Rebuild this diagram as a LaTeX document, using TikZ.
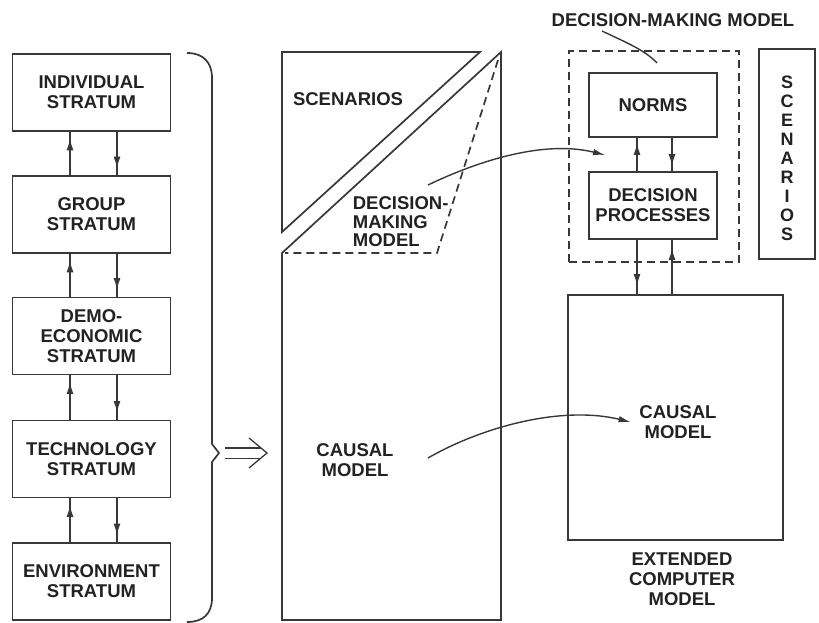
\documentclass[tikz,border=0pt]{standalone}
\usepackage{fontspec}
\setmainfont{Liberation Sans}
\usetikzlibrary{arrows.meta,calc}
\definecolor{linec}{HTML}{383838}
\definecolor{txtc}{HTML}{222222}
\newcommand\diaglabel{\fontsize{18.5}{20}\bfseries\selectfont}

\begin{document}
\begin{tikzpicture}[x=1pt,y=-1pt,line width=1.7pt,color=linec,
  txt/.style={text=txtc,font=\diaglabel,align=center,inner sep=0pt},
  box/.style={txt,draw=linec,line width=1.7pt},
  stratum/.style={box,minimum width=158pt,minimum height=77pt},
  dashbox/.style={draw=linec,line width=1.7pt,dash pattern=on 8pt off 5pt,inner sep=0pt},
  dashline/.style={dash pattern=on 8pt off 5pt},
  flowhead/.style={-{Latex[length=12pt,width=7pt]}},
  curvehead/.style={-{Latex[length=12pt,width=6.5pt]},line width=1.4pt}]

\useasboundingbox (0,0) rectangle (819,623);

% ---- strata column
\node[stratum] (ind) at (91.5,92.5) {INDIVIDUAL\\STRATUM};
\node[stratum] (grp) at (91.5,214.5) {GROUP\\STRATUM};
\node[stratum] (eco) at (91.5,336) {DEMO-\\ECONOMIC\\STRATUM};
\node[stratum] (tec) at (91.5,459) {TECHNOLOGY\\STRATUM};
\node[stratum] (env) at (91.5,581.5) {ENVIRONMENT\\STRATUM};

% a flow line with its arrowhead placed close to the receiving box
\newcommand\flowline[2]{%
  \draw #1 -- #2;
  \draw[flowhead] #1 -- ($#1!0.85!#2$);}

\coordinate (upx) at (70,0);
\coordinate (dnx) at (117,0);
\foreach \lo/\hi in {grp/ind,eco/grp,tec/eco,env/tec}{
  \flowline{(\lo.north -| upx)}{(\hi.south -| upx)}
  \flowline{(\hi.south -| dnx)}{(\lo.north -| dnx)}
}

% ---- brace and implication sign
\draw (187,53) .. controls (203,53) and (212,62) .. (212,78) -- (212,444)
  -- (219,453) -- (212,462) -- (212,598)
  .. controls (212,614) and (203,622) .. (187,622);
\draw[line width=1.2pt,double=white,double distance=9pt] (225,453) -- (261,453);
\draw[line width=1.3pt] (249,438) -- (267,453) -- (249,468);

% ---- split model column
\draw (282,232) -- (282,52) -- (480,52) -- cycle;
\draw (282,253) -- (501,52) -- (501,620) -- (282,620) -- cycle;
\draw[dashline] (498,60) -- (437,253) -- (285,253);

\node[txt] (scen) at (348,99) {SCENARIOS};
\node[txt,align=left,anchor=west,font=\fontsize{18.5}{18.5}\bfseries\selectfont] (dmm) at (352,222) {DECISION-\\MAKING\\MODEL};
\node[txt] (cml) at (355,460) {CAUSAL\\MODEL};

% ---- extended computer model
\node[txt] (dmt) at (673,20) {DECISION-MAKING MODEL};
\node[dashbox,minimum width=170pt,minimum height=211pt] (dmbox) at (654,156.5) {};
\node[box,minimum width=128pt,minimum height=64pt] (norms) at (653,105) {NORMS};
\node[box,minimum width=128pt,minimum height=67pt] (dp) at (653,205.5) {DECISION\\PROCESSES};
\node[box,minimum width=215pt,minimum height=245pt] (cm) at (675.5,417.5) {};
\node[txt] (cmr) at (678,422) {CAUSAL\\MODEL};
\node[txt] (ecm) at (682,579) {EXTENDED\\COMPUTER\\MODEL};
\node[box,minimum width=56pt,minimum height=210pt] (scv) at (787,154) {};
\node[txt,font=\fontsize{18}{19}\bfseries\selectfont] (scvt) at (787,158) {S\\C\\E\\N\\A\\R\\I\\O\\S};

\coordinate (ax) at (637,0);
\coordinate (bx) at (672,0);
\flowline{(dp.north -| ax)}{(norms.south -| ax)}
\flowline{(norms.south -| bx)}{(dp.north -| bx)}
\flowline{(dp.south -| ax)}{(cm.north -| ax)}
\flowline{(cm.north -| bx)}{(dp.south -| bx)}

% ---- connectors
\coordinate (dmtfoot) at (602,31);
\coordinate (dmtend) at (657,63);
\draw[line width=1.4pt] (dmtfoot) .. controls (625,42) and (645,50) .. (dmtend);

\coordinate (dmmfrom) at (428,185);
\coordinate (dmmto) at (605,155);
\draw[curvehead] (dmmfrom) .. controls (480,160) and (545,140) .. (dmmto);

\coordinate (cmfrom) at (428,458);
\draw[curvehead] (cmfrom) .. controls (480,428) and (560,405) .. ([xshift=-8pt]cmr.west);
\end{tikzpicture}
\end{document}
